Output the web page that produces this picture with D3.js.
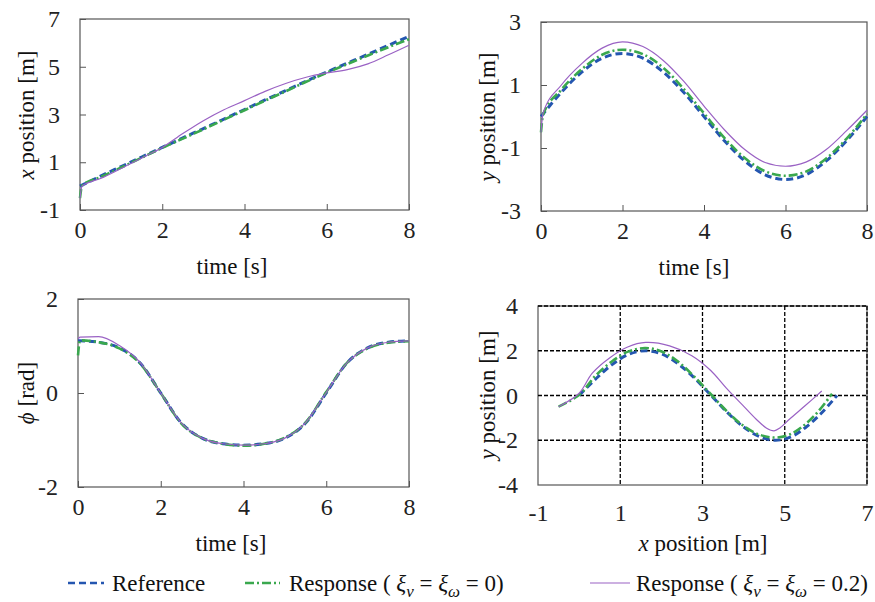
<!DOCTYPE html>
<html>
<head>
<meta charset="utf-8">
<script src="https://cdn.jsdelivr.net/npm/d3@7"></script>
<style>
  body { margin: 0; background: #fff; }
</style>
</head>
<body>
<div id="chart"></div>
<script>
// sample times [s]
var time = [0, 0.05, 0.5, 1, 1.5, 2, 2.5, 3, 3.5, 4, 4.5, 5, 5.5, 6, 6.5, 7, 7.5, 8];

// x position [m]
var xRef    = [0, 0.04, 0.42, 0.82, 1.22, 1.62, 2.02, 2.41, 2.81, 3.21, 3.61, 4.0, 4.4, 4.78, 5.15, 5.52, 5.9, 6.27];
var xResp0  = [-0.5, 0.02, 0.38, 0.78, 1.19, 1.6, 1.99, 2.38, 2.78, 3.18, 3.58, 3.97, 4.37, 4.75, 5.11, 5.47, 5.82, 6.15];
var xResp02 = [-0.5, 0.0, 0.32, 0.74, 1.18, 1.62, 2.2, 2.74, 3.2, 3.58, 3.97, 4.3, 4.56, 4.74, 4.88, 5.12, 5.5, 5.9];

// y position [m]
var yRef    = [0, 0.08, 0.77, 1.41, 1.85, 2.0, 1.85, 1.41, 0.77, 0, -0.77, -1.41, -1.85, -2.0, -1.85, -1.41, -0.77, 0];
var yResp0  = [-0.5, 0.05, 0.85, 1.5, 1.96, 2.12, 1.98, 1.55, 0.88, 0.1, -0.68, -1.32, -1.74, -1.88, -1.75, -1.33, -0.7, 0.08];
var yResp02 = [-0.5, 0.1, 1.0, 1.68, 2.17, 2.37, 2.22, 1.78, 1.12, 0.33, -0.42, -1.05, -1.46, -1.58, -1.45, -1.05, -0.45, 0.2];

// heading phi [rad]
var phiRef    = [1.11, 1.11, 1.08, 0.96, 0.64, 0, -0.64, -0.96, -1.08, -1.11, -1.08, -0.96, -0.64, 0, 0.64, 0.96, 1.08, 1.11];
var phiResp0  = [0.8, 1.12, 1.08, 0.95, 0.63, 0, -0.65, -0.96, -1.08, -1.12, -1.08, -0.95, -0.63, 0.02, 0.64, 0.95, 1.07, 1.1];
var phiResp02 = [1.15, 1.19, 1.2, 1.01, 0.65, 0, -0.64, -0.96, -1.08, -1.11, -1.08, -0.96, -0.63, 0.01, 0.64, 0.96, 1.08, 1.11];

// tick values
var timeTicks = [0, 2, 4, 6, 8];
var xPosTimeTicks = [-1, 1, 3, 5, 7];
var yPosTimeTicks = [-3, -1, 1, 3];
var phiTicks = [-2, 0, 2];
var xPosTicks = [-1, 1, 3, 5, 7];
var yPosTicks = [-4, -2, 0, 2, 4];

var styles = [
  { color: "#2456b0", width: 3,   dash: "7,4" },
  { color: "#3aa84e", width: 2.6, dash: "9,3,2,3" },
  { color: "#9a62c4", width: 1.2, dash: null }
];

var serif = "'Liberation Serif'";

var svg = d3.select("#chart").append("svg")
    .attr("width", 875)
    .attr("height", 602);

function fmt(d) { return String(d); }

function panel(box, xDom, yDom, xTickVals, yTickVals, grid) {
  var x = d3.scaleLinear().domain(xDom).range([box.left, box.right]);
  var y = d3.scaleLinear().domain(yDom).range([box.bottom, box.top]);
  var g = svg.append("g");

  var xa = g.append("g")
      .attr("transform", "translate(0," + box.bottom + ")")
      .call(d3.axisBottom(x).tickValues(xTickVals).tickFormat(fmt)
        .tickSizeInner(grid ? 0 : -6).tickSizeOuter(0).tickPadding(grid ? 19 : 11));
  var ya = g.append("g")
      .attr("transform", "translate(" + box.left + ",0)")
      .call(d3.axisLeft(y).tickValues(yTickVals).tickFormat(fmt)
        .tickSizeInner(grid ? 0 : -6).tickSizeOuter(0).tickPadding(20));
  [xa, ya].forEach(function (a) {
    a.attr("font-family", null).attr("font-size", null);
    a.select(".domain").remove();
    a.selectAll("line").attr("stroke", "#555");
    a.selectAll("text")
      .style("font-family", serif)
      .attr("font-size", 24)
      .attr("fill", "#222");
  });

  g.append("rect")
      .attr("x", box.left).attr("y", box.top)
      .attr("width", box.right - box.left)
      .attr("height", box.bottom - box.top)
      .attr("fill", "none")
      .attr("stroke", "#555")
      .attr("stroke-width", 1.2);

  if (grid) {
    g.selectAll(".gx").data(xTickVals.slice(1)).enter().append("line")
        .attr("x1", function (d) { return x(d); }).attr("x2", function (d) { return x(d); })
        .attr("y1", box.top).attr("y2", box.bottom)
        .attr("stroke", "#000").attr("stroke-width", 1.3).attr("stroke-dasharray", "4,2");
    g.selectAll(".gy").data(yTickVals.slice(1)).enter().append("line")
        .attr("y1", function (d) { return y(d); }).attr("y2", function (d) { return y(d); })
        .attr("x1", box.left).attr("x2", box.right)
        .attr("stroke", "#000").attr("stroke-width", 1.3).attr("stroke-dasharray", "4,2");
  }
  return { g: g, x: x, y: y };
}

function drawSeries(p, list, curve) {
  list.forEach(function (pts, i) {
    var s = styles[i];
    p.g.append("path")
        .datum(pts)
        .attr("fill", "none")
        .attr("stroke", s.color)
        .attr("stroke-width", s.width)
        .attr("stroke-dasharray", s.dash)
        .attr("d", d3.line()
            .x(function (d) { return p.x(d[0]); })
            .y(function (d) { return p.y(d[1]); })
            .curve(curve));
  });
}

function vsTime(arr) { return d3.zip(time, arr); }

// top left: x position vs time
var pA = panel({ left: 80, right: 409, top: 19, bottom: 210 }, [0, 8], [-1, 7], timeTicks, xPosTimeTicks, false);
drawSeries(pA, [vsTime(xRef), vsTime(xResp0), vsTime(xResp02)], d3.curveMonotoneX);

// top right: y position vs time
var pB = panel({ left: 541, right: 867, top: 22, bottom: 211 }, [0, 8], [-3, 3], timeTicks, yPosTimeTicks, false);
drawSeries(pB, [vsTime(yRef), vsTime(yResp0), vsTime(yResp02)], d3.curveMonotoneX);

// bottom left: phi vs time
var pC = panel({ left: 78, right: 409, top: 299, bottom: 487 }, [0, 8], [-2, 2], timeTicks, phiTicks, false);
drawSeries(pC, [vsTime(phiRef), vsTime(phiResp0), vsTime(phiResp02)], d3.curveMonotoneX);

// bottom right: xy path
var pD = panel({ left: 538, right: 867, top: 306, bottom: 485 }, [-1, 7], [-4, 4], xPosTicks, yPosTicks, true);
drawSeries(pD, [d3.zip(xRef, yRef), d3.zip(xResp0, yResp0), d3.zip(xResp02, yResp02)], d3.curveCatmullRom);

// axis titles
function title(x, y, rot, parts) {
  var t = svg.append("text")
      .attr("transform", "translate(" + x + "," + y + ")" + (rot ? " rotate(-90)" : ""))
      .attr("text-anchor", "middle")
      .style("font-family", serif)
      .attr("font-size", 23)
      .attr("fill", "#111");
  parts.forEach(function (p) {
    t.append("tspan").attr("font-style", p[1] ? "italic" : null).text(p[0]);
  });
}
title(232, 274, false, [["time [s]", false]]);
title(694, 275, false, [["time [s]", false]]);
title(231, 551, false, [["time [s]", false]]);
title(703, 551, false, [["x", true], [" position [m]", false]]);
title(34, 115, true, [["x", true], [" position [m]", false]]);
title(495, 117, true, [["y", true], [" position [m]", false]]);
title(34, 393, true, [["ϕ", true], [" [rad]", false]]);
title(495, 395, true, [["y", true], [" position [m]", false]]);

// legend
var legendY = 583;
var legendItems = [
  { x1: 68, x2: 104, tx: 112, label: [["Reference"]] },
  { x1: 245, x2: 280, tx: 289, label: [["Response ( "], ["ξ", "i"], ["v", "s"], [" = "], ["ξ", "i"], ["ω", "s"], [" = 0)"]] },
  { x1: 590, x2: 630, tx: 636, label: [["Response ( "], ["ξ", "i"], ["v", "s"], [" = "], ["ξ", "i"], ["ω", "s"], [" = 0.2)"]] }
];
legendItems.forEach(function (it, i) {
  var s = styles[i];
  svg.append("line")
      .attr("x1", it.x1).attr("x2", it.x2)
      .attr("y1", legendY).attr("y2", legendY)
      .attr("stroke", s.color)
      .attr("stroke-width", i == 2 ? 1.2 : 2.6)
      .attr("stroke-dasharray", s.dash);
  var t = svg.append("text")
      .attr("x", it.tx).attr("y", legendY + 8)
      .style("font-family", serif)
      .attr("font-size", 23)
      .attr("fill", "#111");
  var shifted = false;
  it.label.forEach(function (p) {
    var ts = t.append("tspan").text(p[0]);
    if (p[1] == "i") ts.attr("font-style", "italic");
    if (p[1] == "s") {
      ts.attr("font-style", "italic").attr("font-size", 17).attr("dy", 6);
      shifted = true;
    } else if (shifted) {
      ts.attr("dy", -6);
      shifted = false;
    }
  });
});
</script>
</body>
</html>
